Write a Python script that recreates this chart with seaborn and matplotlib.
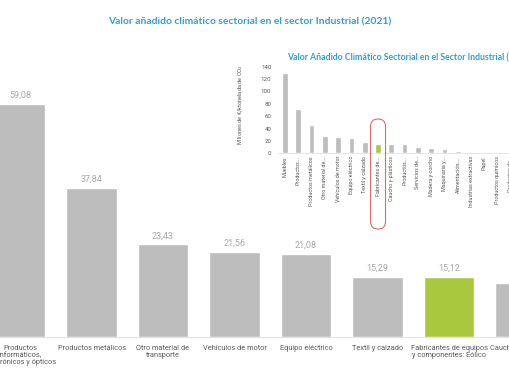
import numpy as np
import matplotlib
matplotlib.use("Agg")
import matplotlib.pyplot as plt
from matplotlib.patches import FancyBboxPatch
from matplotlib.transforms import IdentityTransform
import seaborn as sns
import pandas as pd

# --- DATA ---
main_cats = [
    "Productos\ninformáticos,\nelectrónicos y ópticos",
    "Productos metálicos",
    "Otro material de\ntransporte",
    "Vehículos de motor",
    "Equipo eléctrico",
    "Textil y calzado",
    "Fabricantes de equipos\ny componentes: Eólico",
    "Caucho y plásticos",
]
main_vals = [59.08, 37.84, 23.43, 21.56, 21.08, 15.29, 15.12, 13.7]

inset_cats = [
    "Muebles", "Productos...", "Productos metálicos", "Otro material de...",
    "Vehículos de motor", "Equipo eléctrico", "Textil y calzado",
    "Fabricantes de...", "Caucho y plásticos", "Productos...(2)",
    "Servicios de...", "Madera y corcho", "Maquinaria y...",
    "Alimentación,...", "Industrias extractivas", "Papel",
    "Productos químicos", "Productos de...",
]
inset_labels = [c.replace("(2)", "") for c in inset_cats]
inset_vals = [130, 71, 46, 28, 27, 25, 18, 15, 15.5, 15, 10, 8, 7, 4, 2, 0.8, 0.6, 0.4]

HIGHLIGHT_MAIN = "Fabricantes de equipos\ny componentes: Eólico"
HIGHLIGHT_INSET = "Fabricantes de..."

GREY = "#bdbdbd"
GREEN = "#a9c83e"
BLUE = "#2f9fd8"
TXT = "#5a5a5a"

sns.set_style("white")
plt.rcParams["font.family"] = ["Liberation Sans Narrow", "Roboto", "DejaVu Sans"]

fig = plt.figure(figsize=(5.1, 3.82), dpi=100)

# --- MAIN CHART (runs past the right edge, like the reference crop) ---
step = 71.5
ax_w = 560
ax = fig.add_axes([0, 45 / 382, ax_w / 510, 337 / 382])
df_main = pd.DataFrame({"cat": main_cats, "val": main_vals})
pal_main = {c: (GREEN if c == HIGHLIGHT_MAIN else GREY) for c in main_cats}
sns.barplot(data=df_main, x="cat", y="val", hue="cat", palette=pal_main,
            width=0.713, legend=False, saturation=1, ax=ax)
ax.set_xlim(-20 / step, -20 / step + ax_w / step)
ax.set_ylim(0, 85.3)
for cont in ax.containers:
    ax.bar_label(cont, labels=[f"{v:.2f}".replace(".", ",") for v in cont.datavalues],
                 padding=3, color="#a8a8a8", fontsize=6.5, family=["Roboto", "DejaVu Sans"])
ax.set_xlabel("")
ax.set_ylabel("")
ax.set_yticks([])
ax.tick_params(axis="x", length=0, pad=5.5, labelsize=5.3, labelcolor=TXT)
for lab in ax.get_xticklabels():
    lab.set_linespacing(1.05)
for s in ["top", "left", "right"]:
    ax.spines[s].set_visible(False)
ax.spines["bottom"].set_color("#e3e3e3")
ax.spines["bottom"].set_linewidth(0.8)

fig.text(249.5 / 510, 1 - 22 / 382, "Valor añadido climático sectorial en el sector Industrial (2021)",
         ha="center", va="center", color=BLUE, fontsize=7.4, fontweight="bold",
         family=["Lato", "DejaVu Sans"])

# --- INSET CHART ---
sp = 13.29
left_px = 285 - 0.5 * sp
axi = fig.add_axes([left_px / 510, (382 - 153.3) / 382, 18 * sp / 510, 92.8 / 382])
df_in = pd.DataFrame({"cat": inset_cats, "val": inset_vals})
pal_in = {c: (GREEN if c == HIGHLIGHT_INSET else GREY) for c in inset_cats}
sns.barplot(data=df_in, x="cat", y="val", hue="cat", palette=pal_in,
            width=0.43, legend=False, saturation=1, ax=axi)
axi.set_xlim(-0.5, 17.5)
axi.set_ylim(0, 150)
axi.set_yticks(np.arange(0, 141, 20))
axi.set_xticks(range(len(inset_labels)))
axi.set_xticklabels(inset_labels, rotation=90)
axi.tick_params(axis="x", length=0, pad=2, labelsize=3.9, labelcolor=TXT)
axi.tick_params(axis="y", length=0, pad=5, labelsize=4.4, labelcolor=TXT)
axi.set_xlabel("")
axi.set_ylabel("Millones de €/ktonelada de CO$_2$", fontsize=4.1, color=TXT)
axi.yaxis.set_label_coords((245 - left_px) / (18 * sp), 0.53)
for s in ["top", "left", "right"]:
    axi.spines[s].set_visible(False)
axi.spines["bottom"].set_color("#e3e3e3")
axi.spines["bottom"].set_linewidth(0.6)

fig.text(287 / 510, 1 - 57.5 / 382,
         "Valor Añadido Climático Sectorial en el Sector Industrial (2021)",
         ha="left", va="center", color=BLUE, fontsize=6.3, fontweight="bold",
         family=["Lato", "DejaVu Sans"])

# red highlight round the green inset bar and its label
hi = inset_cats.index(HIGHLIGHT_INSET)
cx = axi.transData.transform((hi, 0))[0]
box = FancyBboxPatch((cx - 7.5, 382 - 229), 15, 110,
                     boxstyle="round,pad=0,rounding_size=7.5",
                     transform=IdentityTransform(), fill=False,
                     edgecolor="#e06b6b", linewidth=0.8)
fig.add_artist(box)

fig.savefig("out.png", dpi=100)
